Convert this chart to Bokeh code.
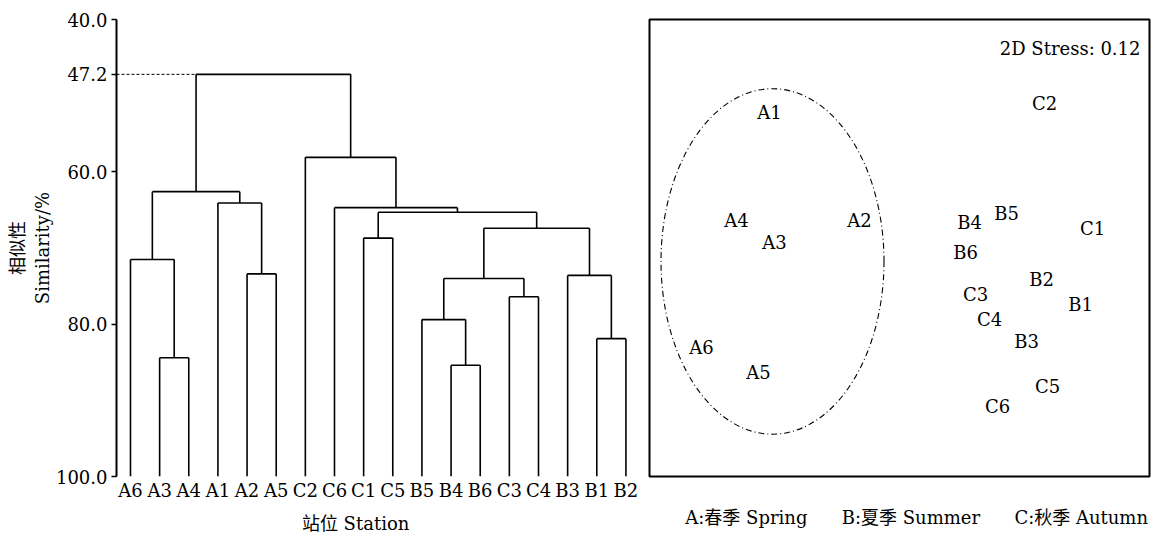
from bokeh.plotting import figure
from bokeh.layouts import row
from bokeh.models import FixedTicker, PrintfTickFormatter, Range1d, Label, ColumnDataSource
from bokeh.core.properties import value
from bokeh.embed import file_html
from bokeh.resources import INLINE

# ---------------- data: cluster dendrogram ----------------
leaves = ["A6", "A3", "A4", "A1", "A2", "A5", "C2", "C6", "C1", "C5",
          "B5", "B4", "B6", "C3", "C4", "B3", "B1", "B2"]
merge_left = ["A3", "A6", "A2", "A1", "m1", "B4", "B5", "C3", "m6", "B1",
              "B3", "m8", "C1", "m12", "C6", "C2", "m4"]
merge_right = ["A4", "m0", "A5", "m2", "m3", "B6", "m5", "C4", "m7", "B2",
               "m9", "m10", "C5", "m11", "m13", "m14", "m15"]
merge_sim = [84.4, 71.5, 73.4, 64.1, 62.6, 85.4, 79.4, 76.4, 74.0, 81.9,
             73.6, 67.4, 68.7, 65.3, 64.7, 58.1, 47.2]
y_ticks = [40.0, 47.2, 60.0, 80.0, 100.0]

# ---------------- data: NMDS ordination ----------------
stations = ["A1", "A2", "A3", "A4", "A5", "A6",
            "B1", "B2", "B3", "B4", "B5", "B6",
            "C1", "C2", "C3", "C4", "C5", "C6"]
nmds1 = [1.20, 2.10, 1.25, 0.87, 1.09, 0.52,
         4.31, 3.92, 3.77, 3.20, 3.57, 3.16,
         4.43, 3.95, 3.26, 3.40, 3.98, 3.48]
nmds2 = [3.66, 2.57, 2.35, 2.57, 1.04, 1.30,
         1.73, 1.98, 1.36, 2.55, 2.64, 2.25,
         2.49, 3.75, 1.83, 1.58, 0.90, 0.70]
stress_text = "2D Stress: 0.12"
season_labels = ["A:春季 Spring", "B:夏季 Summer", "C:秋季 Autumn"]

FONT = "DejaVu Serif, Noto Sans CJK SC"
FS = "18px"
NB = "\u00a0"

# ---------------- dendrogram geometry from merges ----------------
pos = {name: float(i) for i, name in enumerate(leaves)}
hgt = {name: 100.0 for name in leaves}
x0s, y0s, x1s, y1s = [], [], [], []
for k, (a, b, s) in enumerate(zip(merge_left, merge_right, merge_sim)):
    xa, xb = pos[a], pos[b]
    x0s += [xa, xb, xa]
    y0s += [hgt[a], hgt[b], s]
    x1s += [xa, xb, xb]
    y1s += [s, s, s]
    pos["m%d" % k] = (xa + xb) / 2.0
    hgt["m%d" % k] = s

p1 = figure(width=640, height=536, x_range=Range1d(-0.48, 17.5), y_range=Range1d(100, 40),
            output_backend="svg", toolbar_location=None,
            min_border_left=116, min_border_right=0, min_border_top=19, min_border_bottom=60)
p1.outline_line_color = None
p1.xgrid.visible = False
p1.ygrid.visible = False

p1.segment(x0=x0s, y0=y0s, x1=x1s, y1=y1s, line_color="black", line_width=1.6)
top = len(merge_sim) - 1
p1.segment(x0=[p1.x_range.start], y0=[merge_sim[top]],
           x1=[pos[merge_left[top]]], y1=[merge_sim[top]],
           line_color="black", line_width=1, line_dash="3 2")

xa = p1.xaxis[0]
xa.ticker = FixedTicker(ticks=list(range(len(leaves))))
xa.major_label_overrides = {i: n for i, n in enumerate(leaves)}
xa.axis_line_color = None
xa.major_tick_line_color = None
xa.minor_tick_line_color = None
xa.major_label_standoff = -3
xa.major_label_text_font = FONT
xa.major_label_text_font_size = FS
xa.major_label_text_color = "black"
xa.axis_label = "站位 Station" + " " * 8
xa.axis_label_text_font = FONT
xa.axis_label_text_font_size = FS
xa.axis_label_text_font_style = "normal"
xa.axis_label_text_color = "black"
xa.axis_label_standoff = 9

ya = p1.yaxis[0]
ya.ticker = FixedTicker(ticks=y_ticks)
ya.formatter = PrintfTickFormatter(format="%.1f")
ya.axis_line_width = 2
ya.axis_line_color = "black"
ya.major_tick_line_color = "black"
ya.major_tick_line_width = 1.5
ya.major_tick_out = 5
ya.major_tick_in = 0
ya.minor_tick_line_color = None
ya.major_label_standoff = 4
ya.major_label_text_font = FONT
ya.major_label_text_font_size = FS
ya.major_label_text_color = "black"
ya.axis_label = "相似性\nSimilarity/%"
ya.axis_label_text_font = FONT
ya.axis_label_text_font_size = FS
ya.axis_label_text_font_style = "normal"
ya.axis_label_text_color = "black"
ya.axis_label_standoff = 0

# ---------------- NMDS panel ----------------
p2 = figure(width=525, height=536, x_range=Range1d(0, 5.0), y_range=Range1d(0, 4.59),
            output_backend="svg", toolbar_location=None, y_axis_location=None,
            min_border_left=9, min_border_right=16, min_border_top=18, min_border_bottom=59)
p2.outline_line_color = "black"
p2.outline_line_width = 2
p2.xgrid.visible = False
p2.ygrid.visible = False

p2.ellipse(x=[1.23], y=[2.16], width=[2.23], height=[3.47], fill_color=None,
           line_color="black", line_width=1.1, line_dash="6 3 1 3")

src = ColumnDataSource(dict(x=nmds1, y=nmds2, label=stations))
p2.text(x="x", y="y", text="label", source=src, text_font=value(FONT),
        text_font_size=value(FS), text_align="center", text_baseline="middle",
        text_color="black")
p2.add_layout(Label(x=4.91, y=4.30, text=stress_text, text_align="right",
                    text_baseline="middle", text_font=FONT, text_font_size=FS,
                    text_color="black"))

xb = p2.xaxis[0]
xb.ticker = FixedTicker(ticks=[])
xb.axis_line_color = None
xb.major_tick_line_color = None
xb.minor_tick_line_color = None
xb.axis_label = NB * 6 + (NB * 6).join(season_labels)
xb.axis_label_text_font = FONT
xb.axis_label_text_font_size = FS
xb.axis_label_text_font_style = "normal"
xb.axis_label_text_color = "black"
xb.axis_label_standoff = 30

layout = row(p1, p2)
open("out.html", "w").write(file_html(layout, INLINE))
